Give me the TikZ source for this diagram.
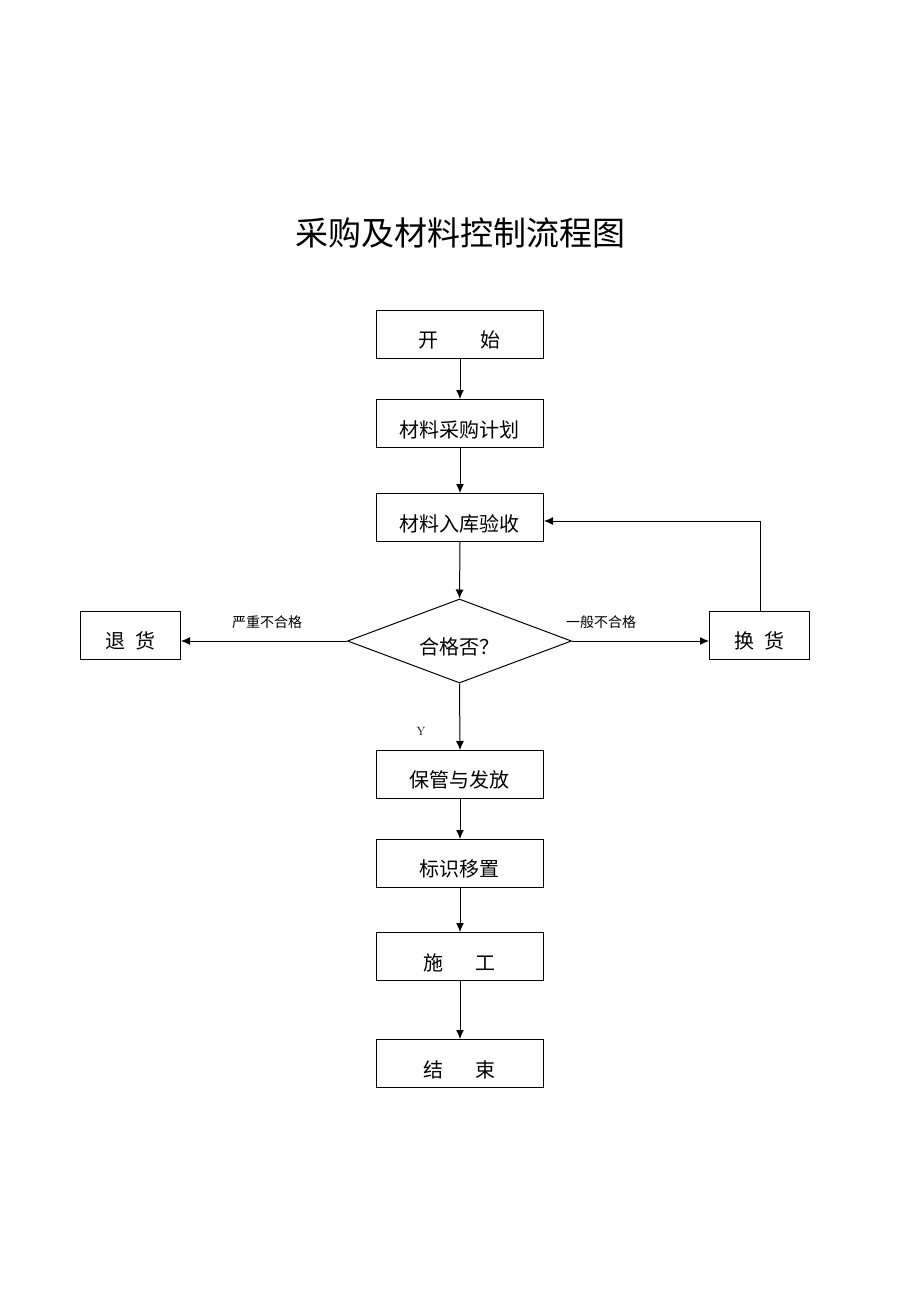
\documentclass[tikz,border=0pt]{standalone}
\usepackage{fontspec}
\newfontfamily\cjk{Noto Sans CJK SC}
\usetikzlibrary{shapes.geometric,arrows.meta}
\begin{document}
\begin{tikzpicture}[x=1pt,y=-1pt,
  box/.style={draw,line width=1pt,minimum width=167pt,minimum height=48pt,inner sep=0pt,anchor=north west},
  sbox/.style={draw,line width=1pt,minimum width=100pt,minimum height=48pt,inner sep=0pt,anchor=north west},
  lbl/.style={font=\cjk\fontsize{20}{22}\selectfont},
  small/.style={font=\cjk\fontsize{14}{16}\selectfont},
  arr/.style={line width=1pt,-{Latex[length=9pt,width=8pt]}},
  ln/.style={line width=1pt}]
\useasboundingbox (0,0) rectangle (920,1302);
\node[font=\cjk\fontsize{33}{36}\selectfont] (title) at (460,233) {采购及材料控制流程图};
\node[box] (start) at (376,310) {};
\node[lbl] at (459.5,340) {开\hspace{2.1em}始};
\node[box] (plan) at (376,399) {};
\node[lbl] at (459.5,430) {材料采购计划};
\node[box] (check) at (376,493) {};
\node[lbl] at (459.5,524) {材料入库验收};
\node[draw,line width=1pt,diamond,aspect=2.67,minimum width=224pt,minimum height=84pt,inner sep=0pt] (q) at (459.5,641) {};
\node[lbl] at (459.5,647) {合格否？};
\node[sbox] (ret) at (80,611) {};
\node[lbl] at (130,641) {退\hspace{0.5em}货};
\node[sbox] (swap) at (709,611) {};
\node[lbl] at (759,641) {换\hspace{0.5em}货};
\node[box] (keep) at (376,750) {};
\node[lbl] at (459.5,780) {保管与发放};
\node[box] (mark) at (376,839) {};
\node[lbl] at (459.5,869) {标识移置};
\node[box] (build) at (376,932) {};
\node[lbl] at (459.5,963) {施\hspace{1.6em}工};
\node[box] (endn) at (376,1039) {};
\node[lbl] at (459.5,1070) {结\hspace{1.6em}束};
\node[small] (l1) at (267,622) {严重不合格};
\node[small] (l2) at (601,622) {一般不合格};
\node[font=\fontsize{12}{14}\selectfont] (y) at (421,731) {Y};
\draw[arr] (start.south) -- (plan.north);
\draw[arr] (plan.south) -- (check.north);
\draw[arr] (check.south) -- (q.north);
\draw[arr] (q.west) -- (q.west -| ret.east);
\draw[arr] (q.east) -- (q.east -| swap.west);
\draw[arr] (q.south) -- (keep.north);
\draw[arr] (keep.south) -- (mark.north);
\draw[arr] (mark.south) -- (build.north);
\draw[arr] (build.south) -- (endn.north);
\coordinate (c1) at (760,521);
\draw[arr] (swap.north -| c1) -- (c1) -- (c1 -| check.east);
\end{tikzpicture}
\end{document}
